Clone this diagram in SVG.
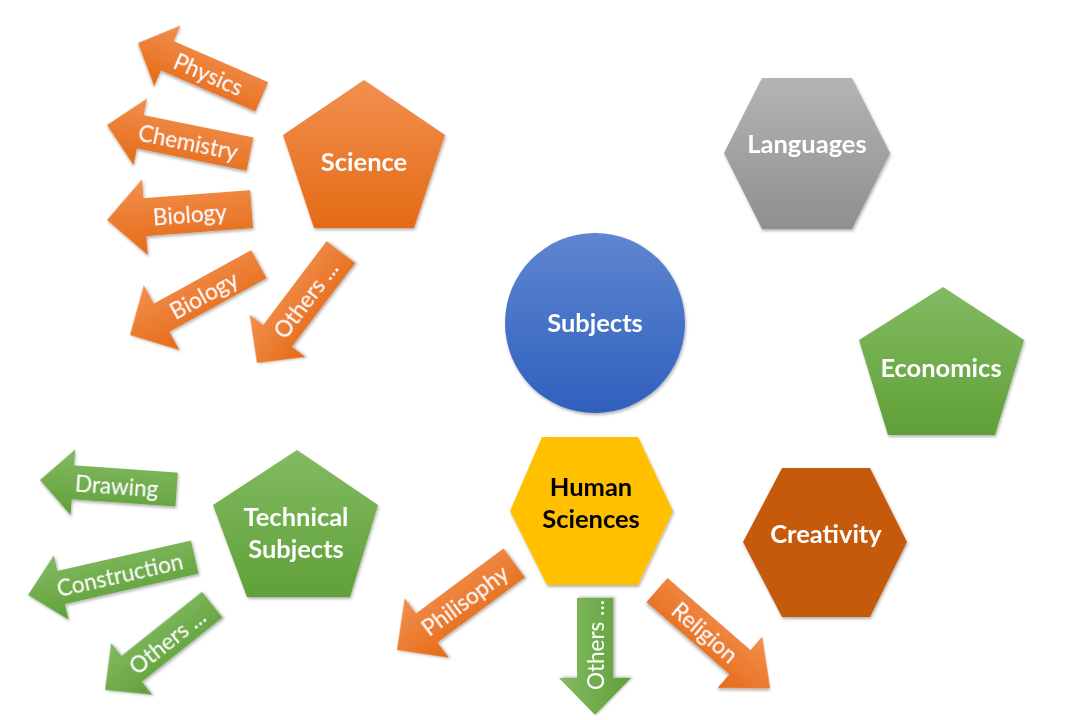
<svg xmlns="http://www.w3.org/2000/svg" width="1080" height="720" viewBox="0 0 1080 720">
<defs>
<linearGradient id="gOr" x1="0" y1="0" x2="0" y2="1"><stop offset="0" stop-color="#F28F4F"/><stop offset="1" stop-color="#E46B16"/></linearGradient>
<linearGradient id="gGr" x1="0" y1="0" x2="0" y2="1"><stop offset="0" stop-color="#82BA62"/><stop offset="1" stop-color="#60A038"/></linearGradient>
<linearGradient id="gBl" x1="0" y1="0" x2="0" y2="1"><stop offset="0" stop-color="#5E86D0"/><stop offset="1" stop-color="#2F60BD"/></linearGradient>
<linearGradient id="gGy" x1="0" y1="0" x2="0" y2="1"><stop offset="0" stop-color="#B4B4B4"/><stop offset="1" stop-color="#8F8F8F"/></linearGradient>
<filter id="sh" x="-20%" y="-20%" width="140%" height="140%"><feDropShadow dx="1" dy="2" stdDeviation="1.5" flood-color="#000" flood-opacity="0.3"/></filter>
</defs>
<style>
.node{filter:url(#sh)}
.lbl{font-family:Lato,"Liberation Sans",sans-serif;font-weight:bold;font-size:25.5px;fill:#fff;text-anchor:middle}
.alb{font-family:Lato,"Liberation Sans",sans-serif;font-size:22.5px;fill:#fff;text-anchor:middle;dominant-baseline:central}
.or{fill:url(#gOr)}
.gr{fill:url(#gGr)}
</style>
<rect width="1080" height="720" fill="#fff"/>

<g id="subjects" class="node"><circle cx="595" cy="323" r="90" fill="url(#gBl)"/><text class="lbl" x="595" y="332">Subjects</text></g>

<g id="science" class="node"><polygon class="or" points="364,80 445,135 414,228 314,228 283,135"/><text class="lbl" x="364" y="171">Science</text></g>

<g id="languages" class="node"><polygon fill="url(#gGy)" points="762,78 852,78 890,153 852,229 762,229 724,153"/><text class="lbl" x="807" y="153">Languages</text></g>

<g id="economics" class="node"><polygon class="gr" points="943,287 1024,340 995,435 888,435 859,340"/><text class="lbl" x="941" y="377">Economics</text></g>

<g id="creativity" class="node"><polygon fill="#C55A11" points="782,468 870,468 907,542 870,617 782,617 743,542"/><text class="lbl" x="826" y="543">Creativity</text></g>

<g id="human-sciences" class="node"><polygon fill="#FFC000" points="542,437 638,437 673,511 638,585 547,585 510,511"/><text class="lbl" style="fill:#000" x="591" y="496">Human</text><text class="lbl" style="fill:#000" x="591" y="528">Sciences</text></g>

<g id="technical-subjects" class="node"><polygon class="gr" points="297,450 378,505 350,597 247,597 213,505"/><text class="lbl" x="296" y="526">Technical</text><text class="lbl" x="296" y="558">Subjects</text></g>

<g id="connectors">
<g id="arrow-physics" class="node" transform="translate(138,43) rotate(23.5)"><path class="or" d="M0,0 L32,-33 L32,-16 L135,-16 L135,16 L32,16 L32,33 Z"/><text class="alb" x="77" y="0">Physics</text></g>
<g id="arrow-chemistry" class="node" transform="translate(107,125) rotate(11.5)"><path class="or" d="M0,0 L34,-34 L34,-17 L146,-17 L146,17 L34,17 L34,34 Z"/><text class="alb" x="83" y="0">Chemistry</text></g>
<g id="arrow-biology1" class="node" transform="translate(107,220) rotate(-4.3)"><path class="or" d="M0,0 L38,-38 L38,-19 L145,-19 L145,19 L38,19 L38,38 Z"/><text class="alb" x="83" y="0">Biology</text></g>
<g id="arrow-biology2" class="node" transform="translate(130,335) rotate(-28.8)"><path class="or" d="M0,0 L36,-37 L36,-16 L147,-16 L147,16 L36,16 L36,37 Z"/><text class="alb" x="84" y="0">Biology</text></g>
<g id="arrow-science-others" class="node" transform="translate(257,363) rotate(-52.9)"><path class="or" d="M0,0 L34,-35 L34,-18 L139,-18 L139,18 L34,18 L34,35 Z"/><text class="alb" x="80" y="0">Others ...</text></g>
<g id="arrow-drawing" class="node" transform="translate(40,480) rotate(4)"><path class="gr" d="M0,0 L33,-33 L33,-17 L137,-17 L137,17 L33,17 L33,33 Z"/><text class="alb" x="77" y="0">Drawing</text></g>
<g id="arrow-construction" class="node" transform="translate(28,595) rotate(-12.8)"><path class="gr" d="M0,0 L34,-33 L34,-17 L171,-17 L171,17 L34,17 L34,33 Z"/><text class="alb" x="94" y="0">Construction</text></g>
<g id="arrow-tech-others" class="node" transform="translate(105,690) rotate(-38.5)"><path class="gr" d="M0,0 L34,-33 L34,-16.5 L137,-16.5 L137,16.5 L34,16.5 L34,33 Z"/><text class="alb" x="79" y="0">Others ...</text></g>
<g id="arrow-philisophy" class="node" transform="translate(397,650) rotate(-36.6)"><path class="or" d="M0,0 L37,-37 L37,-18 L146,-18 L146,18 L37,18 L37,37 Z"/><text class="alb" x="84" y="0">Philisophy</text></g>
<g id="arrow-human-others" class="node" transform="translate(595,715) rotate(-90)"><path class="gr" d="M0,0 L37,-36 L37,-18 L117,-18 L117,18 L37,18 L37,36 Z"/><text class="alb" x="70" y="0">Others ...</text></g>
<g id="arrow-religion" class="node" transform="translate(657,590) rotate(41)"><path class="or" d="M0,-16 L110,-16 L110,-34 L150,0 L110,34 L110,16 L0,16 Z"/><text class="alb" x="64" y="0">Religion</text></g>
</g>
</svg>
